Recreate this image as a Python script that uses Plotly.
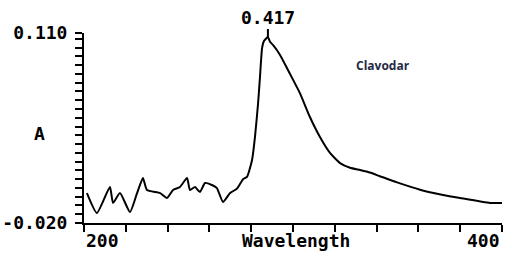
import numpy as np
import plotly.graph_objects as go

wavelength = [201.4, 206.2, 212.4, 213.9, 217.2, 222.0, 225.4, 228.2, 230.1, 236.4,
              239.7, 242.6, 245.9, 249.3, 250.7, 253.1, 255.5, 257.9, 261.2, 263.6,
              266.5, 269.9, 273.2, 276.1, 278.0, 280.4, 281.8, 283.3, 284.2, 285.2,
              286.1, 288.0, 289.0, 290.4, 293.8, 298.6, 303.3, 308.1, 312.9, 317.7,
              322.5, 327.3, 332.1, 336.8, 341.6, 349.8, 360.8, 371.8, 379.9, 394.3, 400.5]
absorbance = [0.0005, -0.0132, 0.0046, -0.0063, 0.0005, -0.0125, 0.0005, 0.0108, 0.0026, 0.0005,
              -0.0029, 0.0026, 0.0046, 0.0108, 0.0026, 0.0046, 0.0012, 0.0074, 0.0060, 0.0039,
              -0.0056, 0.0005, 0.0035, 0.0100, 0.0115, 0.0231, 0.0388, 0.0621, 0.0799, 0.0997,
              0.1045, 0.1072, 0.1040, 0.1018, 0.0950, 0.0819, 0.0689, 0.0525, 0.0388, 0.0279,
              0.0210, 0.0178, 0.0162, 0.0145, 0.0120, 0.0078, 0.0028, -0.0008, -0.0029, -0.0063, -0.0063]

x_labels = ["200", "400"]
y_labels = ["-0.020", "0.110"]
peak_label = "0.417"
sample_name = "Clavodar"
x_title = "Wavelength"
y_title = "A"

mono = dict(family="DejaVu Sans Mono", size=18, color="black", weight="bold")

fig = go.Figure()
fig.add_trace(go.Scatter(x=wavelength, y=absorbance, mode="lines",
                         line=dict(color="black", width=2, shape="spline", smoothing=0.5),
                         cliponaxis=False, showlegend=False))

ytv = list(np.arange(-0.020, 0.1085, 0.006)) + [0.110]
ytt = [""] * len(ytv)
ytt[0] = y_labels[0]
ytt[-1] = y_labels[1]

fig.update_layout(
    width=512, height=255,
    margin=dict(l=84, r=10, t=33, b=32),
    paper_bgcolor="white", plot_bgcolor="white",
    xaxis=dict(range=[200, 400], showgrid=False, zeroline=False, automargin=False,
               showline=True, linecolor="black", linewidth=2,
               ticks="outside", ticklen=7, tickwidth=2, tickcolor="black",
               tickmode="linear", tick0=200, dtick=20, showticklabels=False),
    yaxis=dict(range=[-0.020, 0.110], showgrid=False, zeroline=False, automargin=False,
               showline=True, linecolor="black", linewidth=2,
               ticks="outside", ticklen=7, tickwidth=2, tickcolor="black",
               tickmode="array", tickvals=ytv, ticktext=ytt,
               tickfont=mono, ticklabelstandoff=4),
)

peak_i = int(np.argmax(absorbance))
fig.add_annotation(x=wavelength[peak_i], y=absorbance[peak_i], text=peak_label,
                   showarrow=True, arrowhead=0, arrowwidth=2, arrowcolor="black",
                   ax=0, ay=-20, font=mono)
fig.add_annotation(x=200, y=0, xref="x", yref="paper", yshift=-5,
                   text=x_labels[0], showarrow=False, xanchor="left", yanchor="top",
                   font=mono)
fig.add_annotation(x=400, y=0, xref="x", yref="paper", yshift=-5,
                   text=x_labels[1], showarrow=False, xanchor="right", yanchor="top",
                   font=mono)
fig.add_annotation(x=301.5, y=0, xref="x", yref="paper", yshift=-5,
                   text=x_title, showarrow=False, xanchor="center", yanchor="top",
                   font=mono)
fig.add_annotation(x=-0.125, y=0.47, xref="paper", yref="paper",
                   text=y_title, showarrow=False, font=mono)
fig.add_annotation(x=343, y=0.088, xref="x", yref="y", text=sample_name,
                   showarrow=False,
                   font=dict(family="Open Sans", size=12, color="#1f2a44", weight="bold"))

fig.write_html("out.html")
